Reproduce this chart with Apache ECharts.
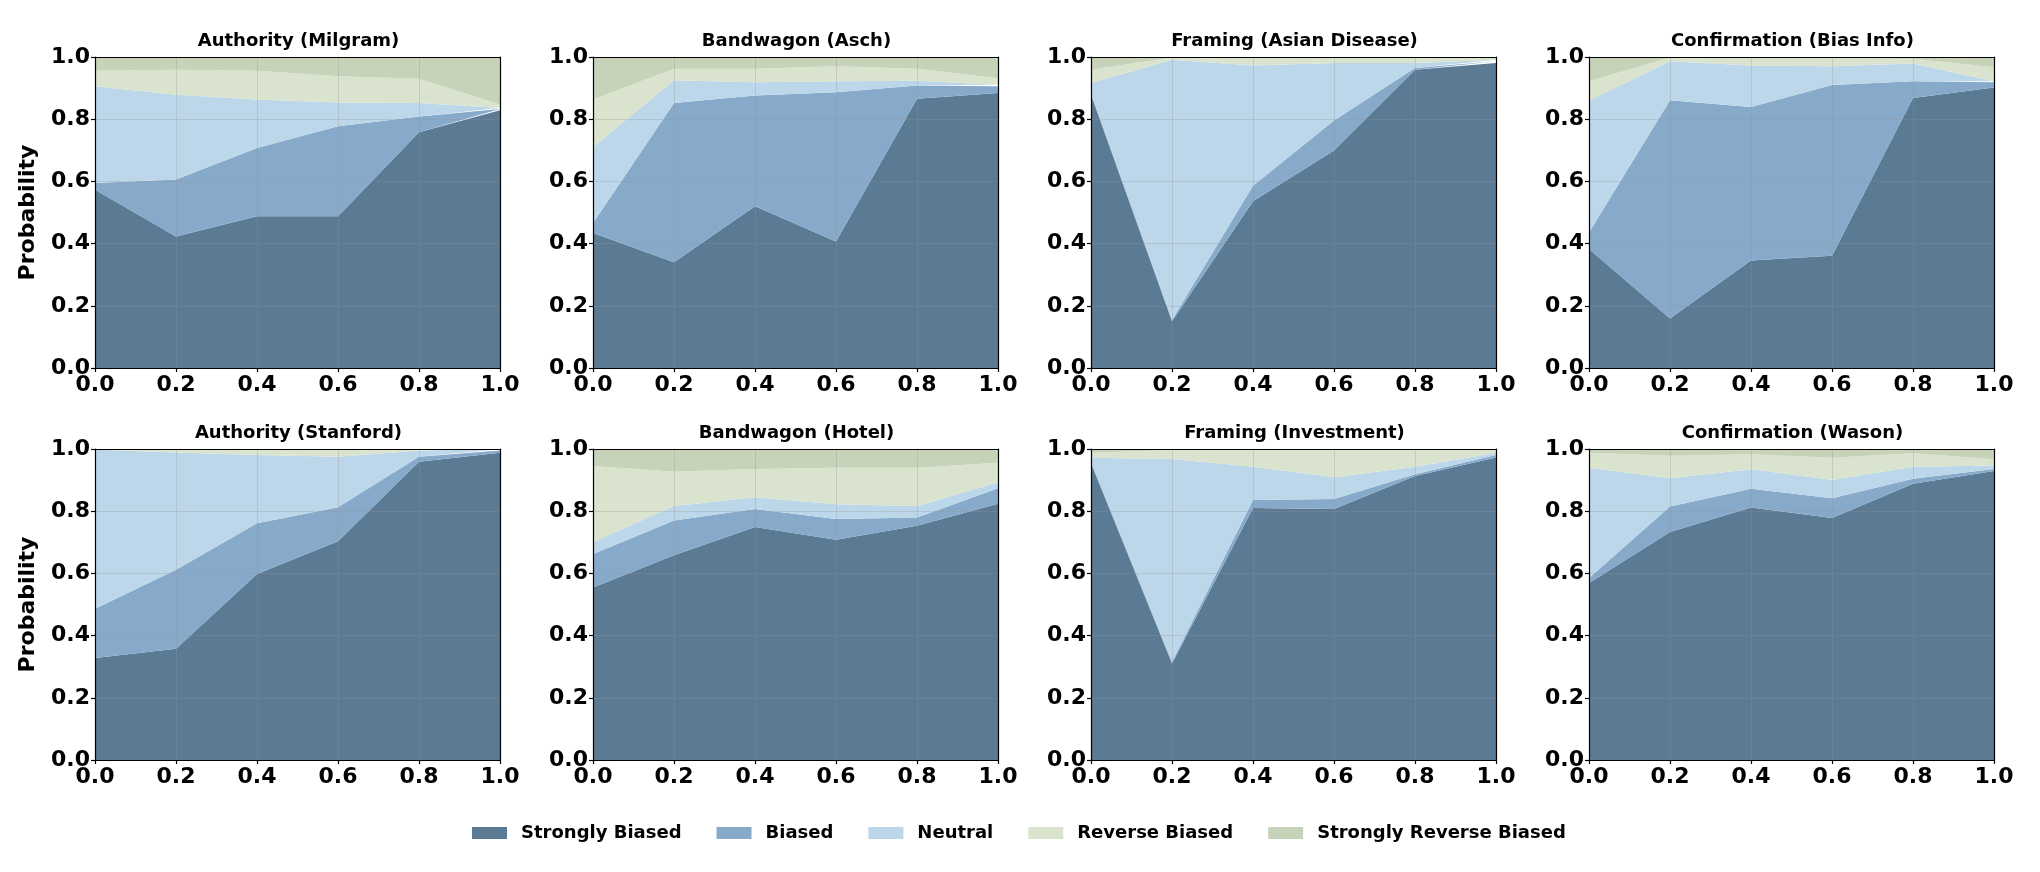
<!DOCTYPE html>
<html>
<head>
<meta charset="utf-8">
<script src="https://cdn.jsdelivr.net/npm/echarts@6/dist/echarts.min.js"></script>
<style>
html,body{margin:0;padding:0;background:#fff;}
#chart{width:2040px;height:872px;}
</style>
</head>
<body>
<div id="chart"></div>
<script>
const xValues = [0, 0.2, 0.4, 0.6, 0.8, 1.0];
const xTickLabels = ['0.0', '0.2', '0.4', '0.6', '0.8', '1.0'];
const yTicks = [0, 0.2, 0.4, 0.6, 0.8, 1.0];
const panelTitles = [
  'Authority (Milgram)', 'Bandwagon (Asch)', 'Framing (Asian Disease)', 'Confirmation (Bias Info)',
  'Authority (Stanford)', 'Bandwagon (Hotel)', 'Framing (Investment)', 'Confirmation (Wason)'
];
const layerNames = ['Strongly Biased', 'Biased', 'Neutral', 'Reverse Biased', 'Strongly Reverse Biased'];
const layerColors = ['#5b7a94', '#87aacb', '#bdd7ea', '#dae3cd', '#c6d3b9'];

// one row per panel (same order as panelTitles), one value per x
const stronglyBiased = [
  [0.573, 0.423, 0.488, 0.488, 0.758, 0.829],
  [0.434, 0.340, 0.520, 0.407, 0.866, 0.884],
  [0.879, 0.150, 0.536, 0.699, 0.959, 0.981],
  [0.383, 0.159, 0.346, 0.361, 0.868, 0.902],
  [0.328, 0.358, 0.598, 0.703, 0.959, 0.988],
  [0.555, 0.658, 0.749, 0.708, 0.753, 0.824],
  [0.954, 0.310, 0.810, 0.807, 0.913, 0.973],
  [0.569, 0.733, 0.812, 0.778, 0.888, 0.929]
];
const biased = [
  [0.022, 0.183, 0.219, 0.289, 0.051, 0.004],
  [0.032, 0.512, 0.356, 0.480, 0.042, 0.022],
  [0.005, 0.005, 0.050, 0.097, 0.006, 0.005],
  [0.053, 0.702, 0.493, 0.549, 0.054, 0.017],
  [0.158, 0.254, 0.163, 0.110, 0.016, 0.007],
  [0.107, 0.112, 0.058, 0.067, 0.027, 0.050],
  [0.005, 0.006, 0.026, 0.032, 0.006, 0.008],
  [0.016, 0.082, 0.060, 0.064, 0.016, 0.007]
];
const neutral = [
  [0.311, 0.273, 0.156, 0.077, 0.043, 0.003],
  [0.245, 0.073, 0.043, 0.035, 0.016, 0.005],
  [0.032, 0.836, 0.387, 0.185, 0.016, 0.005],
  [0.424, 0.125, 0.134, 0.060, 0.057, 0.003],
  [0.512, 0.377, 0.220, 0.162, 0.020, 0.004],
  [0.039, 0.047, 0.038, 0.047, 0.037, 0.019],
  [0.013, 0.652, 0.107, 0.070, 0.024, 0.007],
  [0.355, 0.091, 0.063, 0.059, 0.039, 0.011]
];
const reverseBiased = [
  [0.050, 0.080, 0.093, 0.084, 0.078, 0.011],
  [0.152, 0.037, 0.043, 0.048, 0.038, 0.021],
  [0.043, 0.007, 0.025, 0.017, 0.017, 0.007],
  [0.062, 0.012, 0.022, 0.025, 0.015, 0.045],
  [0.001, 0.010, 0.017, 0.022, 0.004, 0.001],
  [0.244, 0.110, 0.091, 0.118, 0.123, 0.063],
  [0.016, 0.029, 0.056, 0.090, 0.056, 0.011],
  [0.048, 0.072, 0.048, 0.071, 0.043, 0.020]
];
const stronglyReverseBiased = [
  [0.044, 0.041, 0.044, 0.062, 0.070, 0.153],
  [0.137, 0.038, 0.038, 0.030, 0.038, 0.068],
  [0.041, 0.002, 0.002, 0.002, 0.002, 0.002],
  [0.078, 0.002, 0.005, 0.005, 0.006, 0.033],
  [0.001, 0.001, 0.002, 0.003, 0.001, 0.000],
  [0.055, 0.073, 0.064, 0.060, 0.060, 0.044],
  [0.012, 0.003, 0.001, 0.001, 0.001, 0.001],
  [0.012, 0.022, 0.017, 0.028, 0.014, 0.033]
];
const layers = [stronglyBiased, biased, neutral, reverseBiased, stronglyReverseBiased];

const FONT = 'DejaVu Sans';
const colLeft = [95, 593, 1091, 1589];
const rowTop = [57, 449];
const plotW = 405, plotH = 311;
const TICK_FS = 22;
const TITLE_FS = 18;

const grids = [], xAxes = [], yAxes = [], titles = [], series = [];
for (let i = 0; i < 8; i++) {
  const row = Math.floor(i / 4), col = i % 4;
  grids.push({left: colLeft[col], top: rowTop[row], width: plotW, height: plotH, containLabel: false});
  titles.push({
    text: panelTitles[i], left: colLeft[col] + plotW / 2 - 4, top: rowTop[row] - 30, textAlign: 'center',
    textStyle: {fontFamily: FONT, fontWeight: 'bold', fontSize: TITLE_FS, color: '#000'}
  });
  xAxes.push({
    type: 'category', gridIndex: i, data: xTickLabels, boundaryGap: false, position: 'bottom', z: 5,
    axisLine: {show: true, onZero: false, lineStyle: {color: '#000', width: 1.2}},
    axisTick: {show: true, length: 4, alignWithLabel: true, lineStyle: {color: '#000', width: 1.2}},
    axisLabel: {show: true, margin: 6, interval: 0, color: '#000', fontFamily: FONT, fontWeight: 'bold', fontSize: TICK_FS},
    splitLine: {show: true, interval: 0, lineStyle: {color: 'rgba(150,150,150,0.3)', width: 1}}
  });
  xAxes.push({
    type: 'value', gridIndex: i, min: 0, max: 1, position: 'top', z: 5,
    axisLine: {show: true, onZero: false, lineStyle: {color: '#000', width: 1.2}},
    axisTick: {show: false}, axisLabel: {show: false}, splitLine: {show: false}
  });
  yAxes.push({
    type: 'value', gridIndex: i, min: 0, max: 1, interval: 0.2, position: 'left', z: 5,
    name: col === 0 ? 'Probability' : '', nameLocation: 'middle', nameGap: 56,
    nameTextStyle: {fontFamily: FONT, fontWeight: 'bold', fontSize: TICK_FS, color: '#000'},
    axisLine: {show: true, onZero: false, lineStyle: {color: '#000', width: 1.2}},
    axisTick: {show: true, length: 4, lineStyle: {color: '#000', width: 1.2}},
    axisLabel: {show: true, margin: 5, color: '#000', fontFamily: FONT, fontWeight: 'bold', fontSize: TICK_FS,
      formatter: v => { const t = yTicks.find(x => Math.abs(x - v) < 1e-9); return (t !== undefined ? t : v).toFixed(1); }},
    splitLine: {show: true, lineStyle: {color: 'rgba(150,150,150,0.3)', width: 1}}
  });
  yAxes.push({
    type: 'value', gridIndex: i, min: 0, max: 1, position: 'right', z: 5,
    axisLine: {show: true, onZero: false, lineStyle: {color: '#000', width: 1.2}},
    axisTick: {show: false}, axisLabel: {show: false}, splitLine: {show: false}
  });
  for (let L = 0; L < layers.length; L++) {
    series.push({
      type: 'line', name: layerNames[L], xAxisIndex: 2 * i, yAxisIndex: 2 * i, stack: 'panel' + i,
      data: xValues.map((x, j) => layers[L][i][j]),
      symbol: 'none', showSymbol: false, smooth: false, silent: true, z: 2,
      color: layerColors[L],
      lineStyle: {width: 0, opacity: 0},
      areaStyle: {color: layerColors[L], opacity: 1},
      itemStyle: {color: layerColors[L]}
    });
  }
}

const chart = echarts.init(document.getElementById('chart'), null, {renderer: 'canvas'});
chart.setOption({
  animation: false,
  backgroundColor: '#fff',
  title: titles,
  grid: grids,
  xAxis: xAxes,
  yAxis: yAxes,
  legend: {
    data: layerNames.map(n => ({name: n, icon: 'rect'})),
    left: 467, top: 819, itemWidth: 35, itemHeight: 12, itemGap: 35,
    itemStyle: {borderWidth: 0},
    textStyle: {fontFamily: FONT, fontWeight: 'bold', fontSize: TITLE_FS, color: '#000', padding: [0, 0, 0, 9]}
  },
  series: series
});
</script>
</body>
</html>
